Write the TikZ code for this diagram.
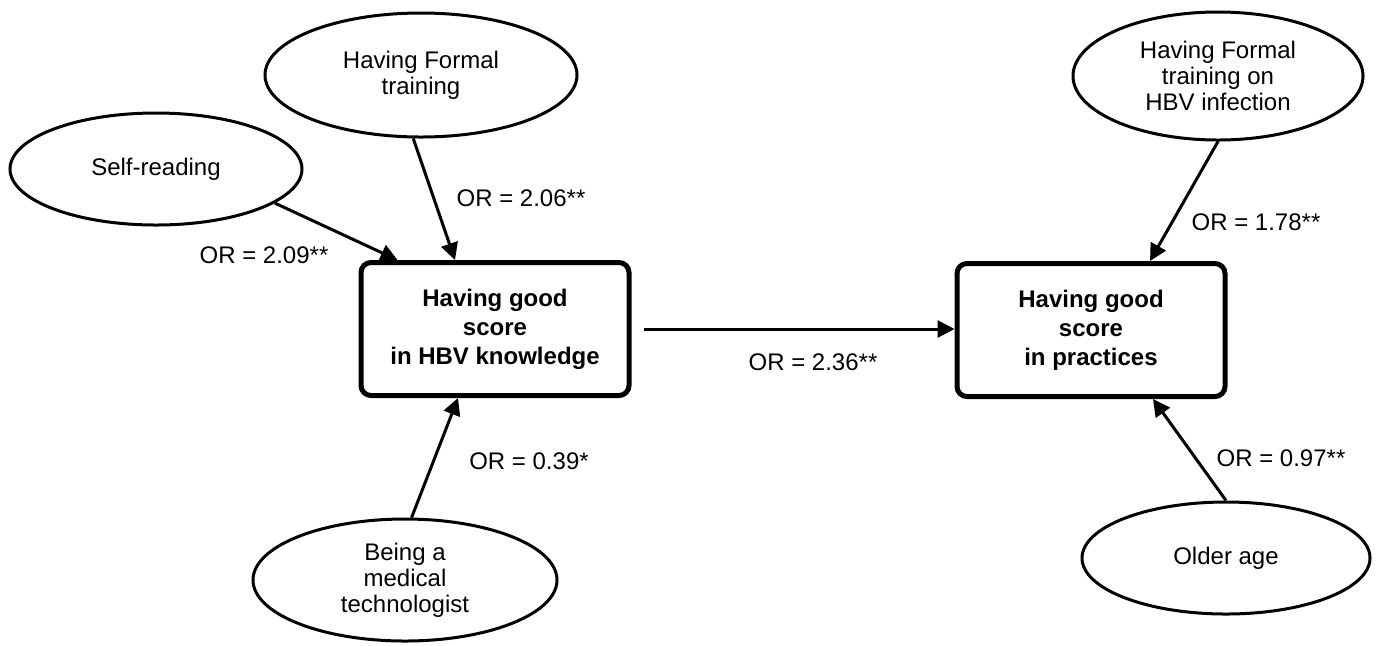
\documentclass[tikz,border=0pt]{standalone}
\usepackage{fontspec}
\setmainfont{Liberation Sans}
\usetikzlibrary{shapes.geometric,arrows.meta,calc}
\begin{document}
\begin{tikzpicture}[x=0.5pt,y=-0.5pt,
  factor/.style={ellipse,draw,line width=1.5pt,inner sep=0pt,align=center,
    font=\fontsize{12}{13}\selectfont},
  outcome/.style={rectangle,rounded corners=5pt,draw,line width=2.5pt,inner sep=0pt,
    align=center,minimum width=134pt,minimum height=66.5pt,
    font=\fontsize{12}{14.5}\selectfont\bfseries},
  arr/.style={line width=1.5pt,-{Triangle[length=8.5pt,width=8.5pt]}},
  orlab/.style={inner sep=0pt,font=\fontsize{12}{14}\selectfont}
]
\useasboundingbox (0,0) rectangle (1376,645);

\node[outcome] (b1) at (495,329) {Having good\\score\\in HBV knowledge};
\node[outcome] (b2) at (1091,330) {Having good\\score\\in practices};

\node[factor,minimum width=156pt,minimum height=62pt] (tl) at (421,75) {Having Formal\\training};
\node[factor,minimum width=146pt,minimum height=56pt] (sr) at (156,169) {Self-reading};
\node[factor,minimum width=152pt,minimum height=61pt] (bm) at (405,580) {Being a\\medical\\technologist};
\node[factor,minimum width=145pt,minimum height=64pt] (tr) at (1218,76) {Having Formal\\training on\\HBV infection};
\node[factor,minimum width=144pt,minimum height=56pt] (oa) at (1226,558) {Older age};

\draw[arr] (sr.-16) -- ([xshift=19.5pt]b1.north west);
\draw[arr] (tl.263) -- ([xshift=-20pt]b1.north);
\draw[arr] (bm.84) -- ([xshift=-18.5pt]b1.south);
\draw[arr] ([xshift=6pt]b1.east) -- (b2.west |- b1.east);
\draw[arr] (tr.south) -- ([xshift=29.5pt]b2.north);
\draw[arr] (oa.north) -- ([xshift=31pt]b2.south);

\node[orlab] (l1) at (521,198) {OR = 2.06**};
\node[orlab] (l2) at (264,255) {OR = 2.09**};
\node[orlab] (l3) at (529,461) {OR = 0.39*};
\node[orlab] (l4) at (813,362) {OR = 2.36**};
\node[orlab] (l5) at (1256,222) {OR = 1.78**};
\node[orlab] (l6) at (1281,458) {OR = 0.97**};
\end{tikzpicture}
\end{document}
